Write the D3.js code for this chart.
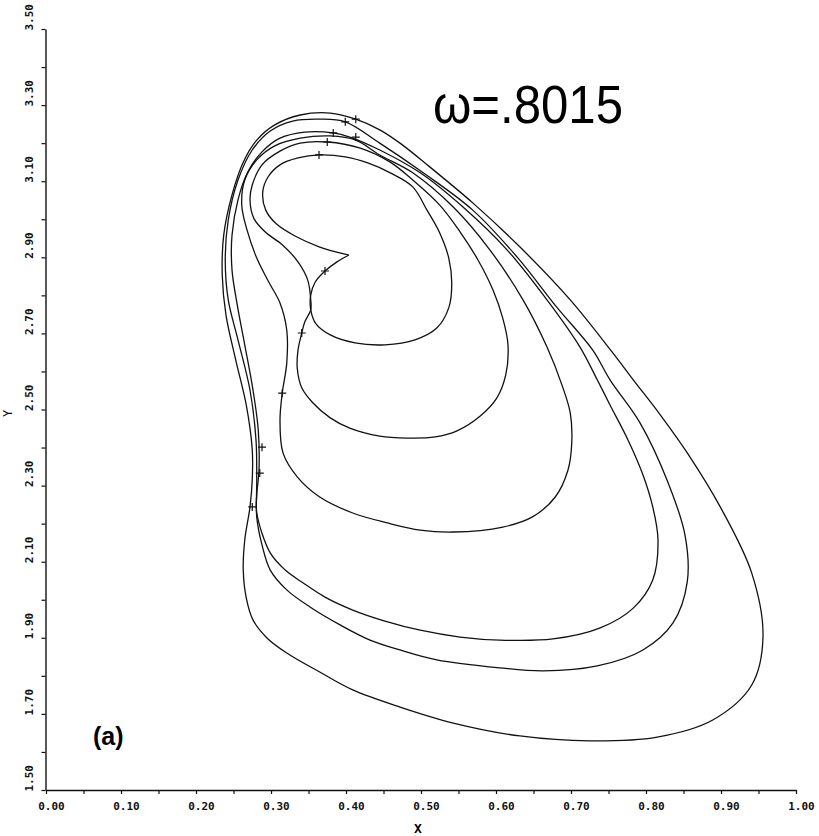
<!DOCTYPE html>
<html>
<head>
<meta charset="utf-8">
<script src="https://cdn.jsdelivr.net/npm/d3@7"></script>
<style>
  html, body { margin: 0; padding: 0; background: #fff; }
  svg { display: block; }
  .tick text { font-family: "DejaVu Sans Mono", monospace; font-size: 11px; font-weight: bold; fill: #111; }
</style>
</head>
<body>
<div id="chart"></div>
<script>
// axis ticks
const xMajor = [0.0, 0.1, 0.2, 0.3, 0.4, 0.5, 0.6, 0.7, 0.8, 0.9, 1.0];
const yMajor = [1.5, 1.7, 1.9, 2.1, 2.3, 2.5, 2.7, 2.9, 3.1, 3.3, 3.5];

// trajectory as [X, Y], innermost loop first
const loop1 = [
  [0.404, 2.906], [0.388, 2.888], [0.372, 2.864], [0.359, 2.835], [0.353, 2.801],
  [0.353, 2.762], [0.360, 2.725], [0.379, 2.696], [0.412, 2.675], [0.452, 2.670],
  [0.492, 2.683], [0.521, 2.714], [0.537, 2.767], [0.541, 2.832], [0.537, 2.898],
  [0.525, 2.964], [0.508, 3.024], [0.489, 3.085], [0.459, 3.122], [0.429, 3.148],
  [0.399, 3.164], [0.364, 3.169], [0.336, 3.161], [0.312, 3.143], [0.296, 3.111],
  [0.289, 3.072], [0.293, 3.024], [0.307, 2.988], [0.332, 2.956], [0.365, 2.927],
  [0.404, 2.906]
];
const loop2 = [
  [0.353, 2.762], [0.345, 2.730], [0.341, 2.701], [0.336, 2.656], [0.335, 2.609],
  [0.341, 2.557], [0.356, 2.517], [0.379, 2.478], [0.405, 2.451], [0.445, 2.430],
  [0.481, 2.425], [0.519, 2.428], [0.548, 2.444], [0.579, 2.483], [0.601, 2.530],
  [0.613, 2.591], [0.616, 2.670], [0.609, 2.740], [0.596, 2.814], [0.576, 2.893],
  [0.552, 2.967], [0.525, 3.037], [0.489, 3.103], [0.459, 3.150], [0.419, 3.187],
  [0.375, 3.203], [0.339, 3.200], [0.312, 3.179], [0.288, 3.143], [0.275, 3.090],
  [0.272, 3.051], [0.277, 3.003], [0.292, 2.967], [0.315, 2.933], [0.336, 2.888],
  [0.349, 2.840], [0.353, 2.788]
];
const loop3 = [
  [0.312, 2.780], [0.321, 2.709], [0.321, 2.622], [0.315, 2.543], [0.312, 2.472],
  [0.316, 2.386], [0.335, 2.323], [0.365, 2.270], [0.409, 2.228], [0.455, 2.202],
  [0.499, 2.183], [0.543, 2.178], [0.609, 2.191], [0.648, 2.217], [0.679, 2.270],
  [0.696, 2.341], [0.701, 2.412], [0.699, 2.491], [0.688, 2.564], [0.668, 2.664],
  [0.636, 2.788], [0.592, 2.919], [0.543, 3.032], [0.489, 3.122], [0.445, 3.169],
  [0.413, 3.208], [0.379, 3.219], [0.339, 3.213], [0.305, 3.193], [0.281, 3.156],
  [0.265, 3.103], [0.261, 3.037], [0.268, 2.972], [0.281, 2.898], [0.297, 2.835]
];
const loop4 = [
  [0.281, 2.228], [0.299, 2.123], [0.319, 2.078], [0.343, 2.044], [0.372, 2.007],
  [0.409, 1.973], [0.452, 1.944], [0.499, 1.920], [0.552, 1.902], [0.605, 1.894],
  [0.676, 1.897], [0.739, 1.926], [0.783, 1.978], [0.809, 2.052], [0.816, 2.157],
  [0.809, 2.244], [0.796, 2.328], [0.776, 2.420], [0.752, 2.512], [0.735, 2.578],
  [0.712, 2.664], [0.668, 2.788], [0.615, 2.919], [0.556, 3.032], [0.499, 3.122],
  [0.445, 3.182], [0.405, 3.216], [0.383, 3.227], [0.345, 3.229], [0.312, 3.213],
  [0.288, 3.177], [0.269, 3.124], [0.256, 3.051], [0.248, 2.958], [0.248, 2.867],
  [0.255, 2.775], [0.265, 2.670], [0.276, 2.551], [0.283, 2.446], [0.284, 2.341],
  [0.281, 2.275]
];
const loop5 = [
  [0.281, 2.217], [0.288, 2.144], [0.299, 2.078], [0.321, 2.026], [0.352, 1.981],
  [0.392, 1.934], [0.432, 1.894], [0.472, 1.868], [0.521, 1.842], [0.605, 1.821],
  [0.663, 1.813], [0.735, 1.826], [0.796, 1.868], [0.836, 1.939], [0.855, 2.047],
  [0.852, 2.170], [0.828, 2.315], [0.792, 2.465], [0.752, 2.578], [0.729, 2.656],
  [0.681, 2.769], [0.628, 2.901], [0.569, 3.024], [0.503, 3.122], [0.445, 3.200],
  [0.399, 3.256], [0.365, 3.263], [0.329, 3.258], [0.299, 3.232], [0.275, 3.182],
  [0.256, 3.103], [0.243, 2.998], [0.239, 2.893], [0.243, 2.788], [0.256, 2.683],
  [0.272, 2.551], [0.280, 2.420], [0.281, 2.315]
];
const loop6 = [
  [0.272, 2.244], [0.265, 2.157], [0.263, 2.078], [0.267, 2.005], [0.276, 1.947],
  [0.295, 1.899], [0.321, 1.860], [0.365, 1.810], [0.409, 1.763], [0.472, 1.718],
  [0.543, 1.676], [0.632, 1.642], [0.725, 1.629], [0.815, 1.639], [0.889, 1.684],
  [0.941, 1.776], [0.956, 1.902], [0.941, 2.070], [0.899, 2.244], [0.855, 2.386],
  [0.819, 2.486], [0.783, 2.578], [0.756, 2.648], [0.699, 2.788], [0.632, 2.927],
  [0.569, 3.043], [0.512, 3.137], [0.472, 3.200], [0.445, 3.235], [0.413, 3.263],
  [0.379, 3.279], [0.339, 3.274], [0.305, 3.248], [0.281, 3.208], [0.263, 3.150],
  [0.248, 3.064], [0.237, 2.959], [0.235, 2.853], [0.240, 2.748], [0.253, 2.630],
  [0.267, 2.512], [0.275, 2.394], [0.275, 2.315]
];

// "+" marks along the trajectory
const marks = [
  [0.364, 3.169], [0.375, 3.203], [0.383, 3.227], [0.399, 3.256], [0.413, 3.263],
  [0.413, 3.216], [0.372, 2.864], [0.341, 2.701], [0.315, 2.543], [0.288, 2.401],
  [0.285, 2.333], [0.275, 2.244]
];

const W = 819, H = 836;

const svg = d3.select("#chart").append("svg")
  .attr("width", W)
  .attr("height", H);

svg.append("rect").attr("width", W).attr("height", H).attr("fill", "#fff");

const x = d3.scaleLinear().domain([0, 1]).range([46, 796]);
const y = d3.scaleLinear().domain([1.5, 3.5]).range([790, 29]);

const xMinor = d3.range(0, 1.0001, 0.05).map(v => +v.toFixed(2));
const yMinor = d3.range(1.5, 3.5001, 0.1).map(v => +v.toFixed(1));
const isMajor = (list, v) => list.some(m => Math.abs(m - v) < 1e-6);

// x axis
const gx = svg.append("g")
  .attr("transform", `translate(0,${y(1.5)})`)
  .call(d3.axisBottom(x)
    .tickValues(xMinor)
    .tickSize(4)
    .tickSizeOuter(0)
    .tickFormat(d => isMajor(xMajor, d) ? d3.format(".2f")(d) : ""));
gx.select(".domain").attr("stroke", "#111").attr("stroke-width", 1.4);
gx.selectAll(".tick line").attr("stroke", "#111").attr("stroke-width", 1.2);
gx.selectAll(".tick text").attr("y", 12).attr("dx", 5).attr("dy", "0.71em");

// y axis
const gy = svg.append("g")
  .attr("transform", `translate(${x(0) - 0.5},0)`)
  .call(d3.axisLeft(y)
    .tickValues(yMinor)
    .tickSize(4)
    .tickSizeOuter(0)
    .tickFormat(d => isMajor(yMajor, d) ? d3.format(".2f")(d) : ""));
gy.select(".domain").attr("stroke", "#111").attr("stroke-width", 1.4);
gy.selectAll(".tick line").attr("stroke", "#111").attr("stroke-width", 1.2);
gy.selectAll(".tick text")
  .attr("x", null).attr("dy", null)
  .attr("text-anchor", "start")
  .attr("transform", "translate(-12.5,1) rotate(-90)");

// axis titles
svg.append("text")
  .attr("x", x(0.5) - 3).attr("y", 833)
  .attr("text-anchor", "middle")
  .style("font-family", "DejaVu Sans Mono, monospace")
  .style("font-size", "13px")
  .style("font-weight", "bold")
  .text("X");

svg.append("text")
  .attr("transform", `translate(12,${y(2.5) + 4}) rotate(-90)`)
  .attr("text-anchor", "middle")
  .style("font-family", "DejaVu Sans Mono, monospace")
  .style("font-size", "12px")
  .text("Y");

// trajectory
const line = d3.line()
  .x(d => x(d[0]))
  .y(d => y(d[1]));

const plot = svg.append("g")
  .attr("fill", "none")
  .attr("stroke", "#111")
  .attr("stroke-width", 1.3)
  .attr("stroke-linejoin", "round");

plot.append("path").attr("d", line.curve(d3.curveCatmullRom.alpha(0.5))(loop1));
[loop2, loop3, loop4, loop5, loop6].forEach(loop => {
  plot.append("path").attr("d", line.curve(d3.curveCatmullRomClosed.alpha(0.5))(loop));
});

plot.selectAll("path.mark")
  .data(marks)
  .join("path")
  .attr("class", "mark")
  .attr("transform", d => `translate(${x(d[0])},${y(d[1])})`)
  .attr("d", "M-4,0H4M0,-4V4")
  .attr("stroke-width", 1.2);

// annotations
svg.append("text")
  .attr("x", 433).attr("y", 123)
  .attr("textLength", 190)
  .attr("lengthAdjust", "spacingAndGlyphs")
  .style("font-family", "Liberation Sans, Arial, sans-serif")
  .style("font-size", "54px")
  .text("ω=.8015");

svg.append("text")
  .attr("x", 93).attr("y", 745)
  .style("font-family", "Liberation Sans, Arial, sans-serif")
  .style("font-weight", "bold")
  .style("font-size", "25px")
  .text("(a)");
</script>
</body>
</html>
